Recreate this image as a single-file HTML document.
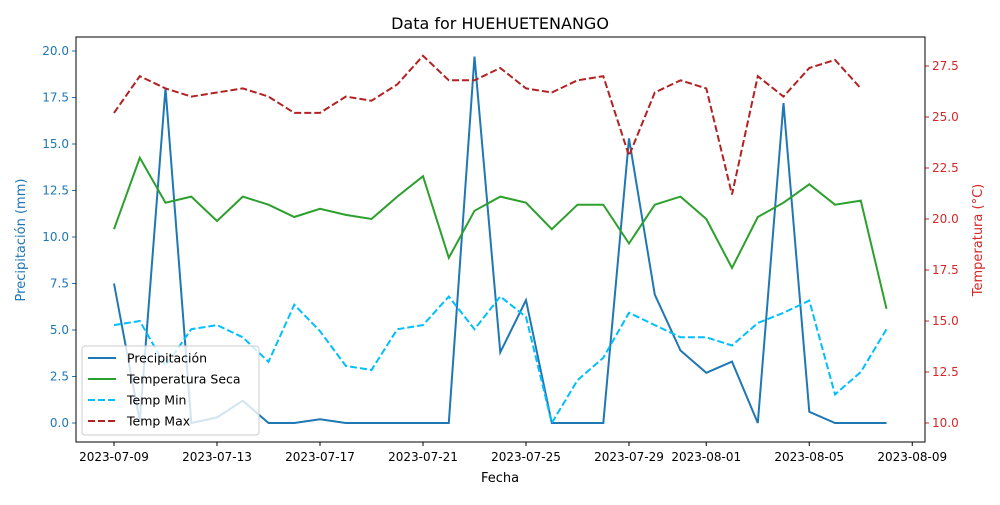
<!DOCTYPE html>
<html><head><meta charset="utf-8">
<style>
body{margin:0;background:#fff;font-family:"Liberation Sans","DejaVu Sans",sans-serif;}
svg text{font-family:"DejaVu Sans","Liberation Sans",sans-serif;}
</style></head>
<body>
<svg id="chart" width="1000" height="500" xmlns="http://www.w3.org/2000/svg"></svg>
<script>
const dates = ["2023-07-09","2023-07-10","2023-07-11","2023-07-12","2023-07-13","2023-07-14","2023-07-15","2023-07-16","2023-07-17","2023-07-18","2023-07-19","2023-07-20","2023-07-21","2023-07-22","2023-07-23","2023-07-24","2023-07-25","2023-07-26","2023-07-27","2023-07-28","2023-07-29","2023-07-30","2023-07-31","2023-08-01","2023-08-02","2023-08-03","2023-08-04","2023-08-05","2023-08-06","2023-08-07","2023-08-08"];
const precip = [7.5,0.1,18,0,0.3,1.2,0,0,0.2,0,0,0,0,0,19.7,3.8,6.6,0,0,0,15.3,6.9,3.9,2.7,3.3,0,17.2,0.6,0,0,0];
const tempSeca = [19.5,23.0,20.8,21.1,19.9,21.1,20.7,20.1,20.5,20.2,20.0,21.1,22.1,18.1,20.4,21.1,20.8,19.5,20.7,20.7,18.8,20.7,21.1,20.0,17.6,20.1,20.8,21.7,20.7,20.9,15.6];
const tempMin = [14.8,15.0,12.8,14.6,14.8,14.2,13.0,15.8,14.5,12.8,12.6,14.6,14.8,16.2,14.6,16.2,15.2,10.0,12.1,13.2,15.4,14.8,14.2,14.2,13.8,14.9,15.4,16.0,11.4,12.5,14.6];
const tempMax = [25.2,27.0,26.4,26.0,26.2,26.4,26.0,25.2,25.2,26.0,25.8,26.6,28.0,26.8,26.8,27.4,26.4,26.2,26.8,27.0,23.1,26.2,26.8,26.4,21.2,27.0,26.0,27.4,27.8,26.4,null];
const xTickLabels = ["2023-07-09","2023-07-13","2023-07-17","2023-07-21","2023-07-25","2023-07-29","2023-08-01","2023-08-05","2023-08-09"];
const xTickIdx = [0,4,8,12,16,20,23,27,31];
const leftTicks = [0,2.5,5,7.5,10,12.5,15,17.5,20];
const rightTicks = [10,12.5,15,17.5,20,22.5,25,27.5];

const L=76,R=925,T=37,B=442;
const x = i => 114 + 25.75*i;
const yL = v => 423 - 18.6*v;
const yR = v => 423 - 20.4*(v-10);
const svg = document.getElementById('chart');
const NS="http://www.w3.org/2000/svg";
function mk(tag, attrs, parent){const e=document.createElementNS(NS,tag);for(const k in attrs)e.setAttribute(k,attrs[k]);(parent||svg).appendChild(e);return e;}

const title = mk('text',{x:500,y:29,'text-anchor':'middle','font-size':16,fill:'#000'});
title.textContent='Data for HUEHUETENANGO';



xTickIdx.forEach((idx,k)=>{
  const g = mk('g',{});
  
  
  mk('line',{x1:x(idx),x2:x(idx),y1:B,y2:B+4,stroke:'#000'},g);
  const t=mk('text',{x:x(idx),y:B+19,'text-anchor':'middle','font-size':12,fill:'#000'},g);
  t.textContent=xTickLabels[k];
});
const xl = mk('text',{x:500,y:482,'text-anchor':'middle','font-size':13,fill:'#000'});
xl.textContent='Fecha';



leftTicks.forEach(v=>{
  const g = mk('g',{});
  
  
  mk('line',{x1:L-4,x2:L,y1:yL(v),y2:yL(v),stroke:'#1f77b4'},g);
  const t=mk('text',{x:L-7,y:yL(v)+4,'text-anchor':'end','font-size':12,fill:'#1f77b4'},g);
  t.textContent=v.toFixed(1);
});
rightTicks.forEach(v=>{
  const g = mk('g',{});
  
  
  mk('line',{x1:R,x2:R+4,y1:yR(v),y2:yR(v),stroke:'#d62728'},g);
  const t=mk('text',{x:R+7,y:yR(v)+4,'text-anchor':'start','font-size':12,fill:'#d62728'},g);
  t.textContent=v.toFixed(1);
});
const yl1 = mk('text',{transform:'translate(25,240) rotate(-90)','text-anchor':'middle','font-size':13,fill:'#1f77b4'});
yl1.textContent='Precipitación (mm)';


const yl2 = mk('text',{transform:'translate(982,240) rotate(-90)','text-anchor':'middle','font-size':13,fill:'#d62728'});
yl2.textContent='Temperatura (°C)';



function series(vals, yf, color, dash, name){
  let d='', pen=false;
  vals.forEach((v,i)=>{ if(v===null){pen=false;return;} d+=(pen?'L':'M')+x(i).toFixed(1)+','+yf(v).toFixed(1); pen=true;});
  const p=mk('path',{d:d,fill:'none',stroke:color,'stroke-width':2,'stroke-dasharray':dash||'none'});
  
  
}
series(precip,yL,'#1f77b4',null,'precipitacion-line');
series(tempSeca,yR,'#2ca02c',null,'temperatura-seca-line');
series(tempMin,yR,'#00bfff','7,3','temp-min-line');
series(tempMax,yR,'#b22222','7,3','temp-max-line');

const frame = mk('rect',{x:L,y:T,width:R-L,height:B-T,fill:'none',stroke:'#000','stroke-width':1});



const lg = mk('g',{});


mk('rect',{x:82,y:346,width:177,height:89,rx:3,fill:'rgba(255,255,255,0.8)',stroke:'#ccc'},lg);
const items=[['Precipitación','#1f77b4',null],['Temperatura Seca','#2ca02c',null],['Temp Min','#00bfff','7,3'],['Temp Max','#b22222','7,3']];
items.forEach((it,k)=>{
  const g=mk('g',{},lg);
  
  
  const yy=358+21*k;
  mk('line',{x1:88,x2:116,y1:yy,y2:yy,stroke:it[1],'stroke-width':2,'stroke-dasharray':it[2]||'none'},g);
  const t=mk('text',{x:127,y:yy+4.5,'font-size':12.5,fill:'#000'},g);
  t.textContent=it[0];
});
</script>
</body></html>
